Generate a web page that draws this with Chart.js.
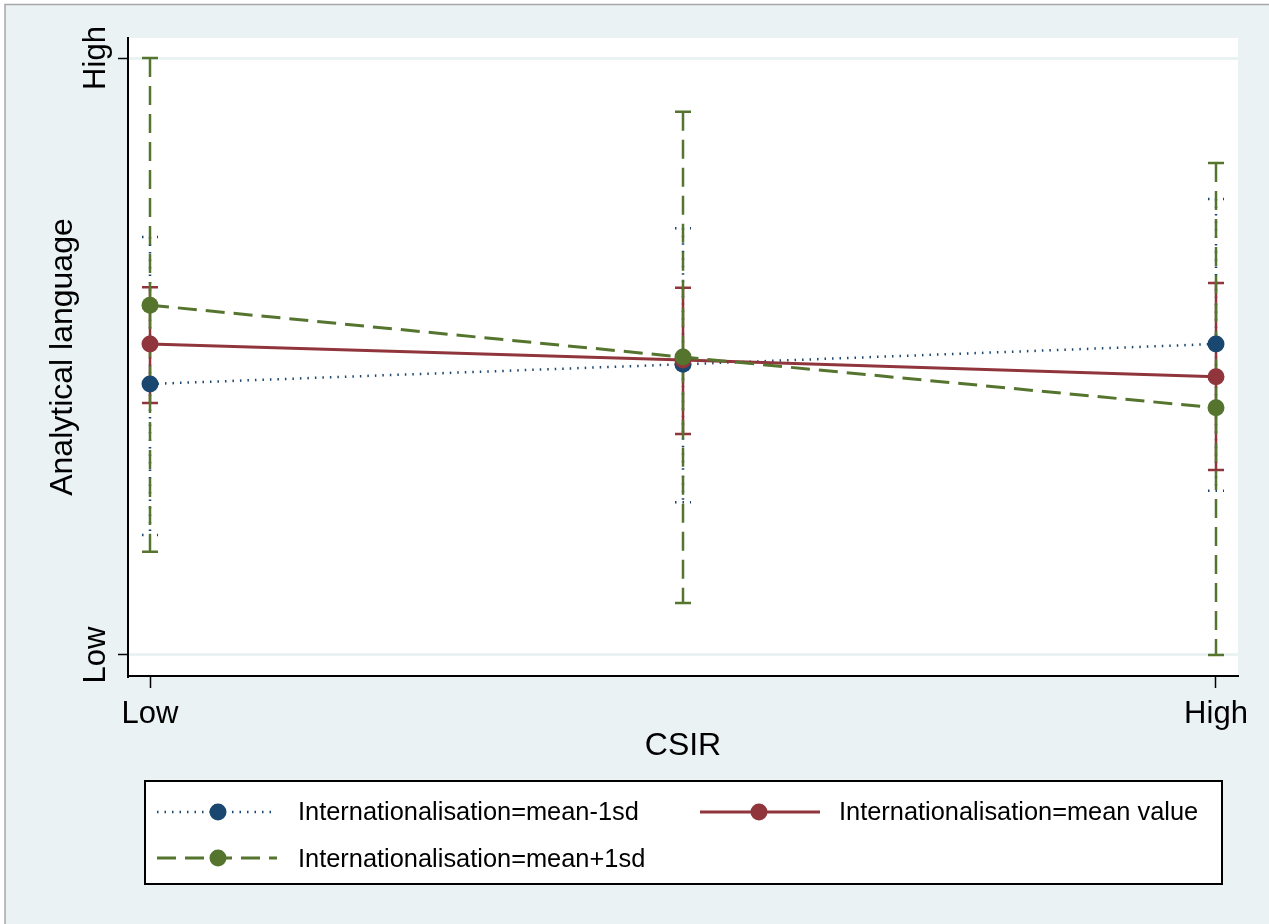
<!DOCTYPE html>
<html>
<head>
<meta charset="utf-8">
<script src="https://cdn.jsdelivr.net/npm/chart.js@4.4.1/dist/chart.umd.min.js"></script>
<style>
    html, body { margin: 0; padding: 0; background: #ffffff; }
    #wrap { width: 1269px; height: 924px; }
</style>
</head>
<body>
<div id="wrap"><canvas id="grafica" width="1269" height="924"></canvas></div>
<script>
// Data (y scaled so Low = 0, High = 1)
const csirLevels = [0, 0.5, 1];
const xTickValues = [0, 1];
const xTickLabels = ["Low", "High"];
const yTickValues = [0, 1];
const yTickLabels = ["Low", "High"];

const seriesNames = [
    "Internationalisation=mean-1sd",
    "Internationalisation=mean value",
    "Internationalisation=mean+1sd"
];

const minus1sd = [0.454, 0.487, 0.521];
const minus1sdLow = [0.201, 0.256, 0.275];
const minus1sdHigh = [0.700, 0.715, 0.764];

const meanValue = [0.521, 0.494, 0.466];
const meanValueLow = [0.422, 0.370, 0.310];
const meanValueHigh = [0.616, 0.615, 0.623];

const plus1sd = [0.586, 0.499, 0.414];
const plus1sdLow = [0.173, 0.087, 0.000];
const plus1sdHigh = [1.000, 0.910, 0.824];

const FONT = "'Liberation Sans', Arial, Helvetica, sans-serif";
const BG = "#EAF2F3";
const NAVY = "#1A476F";
const MAROON = "#90353B";
const GREEN = "#55752F";

const dashes = [[1.5, 6], [], [19, 9]];
const lows = [minus1sdLow, meanValueLow, plus1sdLow];
const highs = [minus1sdHigh, meanValueHigh, plus1sdHigh];

function toPoints(values) {
    return csirLevels.map((x, i) => ({ x: x, y: values[i] }));
}

function makeDataset(label, values, color, dash, order) {
    return {
        label: label,
        data: toPoints(values),
        borderColor: color,
        backgroundColor: color,
        borderWidth: dash.length && dash[0] < 2 ? 2.5 : 3,
        borderDash: dash,
        pointRadius: 8.5,
        pointBorderWidth: 0,
        pointBackgroundColor: color,
        tension: 0,
        order: order
    };
}

// background, outer frame and white plot region
const fondo = {
    id: "fondo",
    beforeDraw(chart) {
        const ctx = chart.ctx;
        const a = chart.chartArea;
        ctx.save();
        ctx.fillStyle = "#ffffff";
        ctx.fillRect(0, 0, chart.width, chart.height);
        ctx.fillStyle = BG;
        ctx.fillRect(5, 4, chart.width - 5, chart.height - 4);
        ctx.strokeStyle = "#A8A8A8";
        ctx.lineWidth = 1.5;
        ctx.beginPath();
        ctx.moveTo(5, chart.height);
        ctx.lineTo(5, 4.5);
        ctx.lineTo(chart.width, 4.5);
        ctx.stroke();
        ctx.fillStyle = "#ffffff";
        ctx.fillRect(a.left, a.top, a.right - a.left, a.bottom - a.top);
        ctx.restore();
    }
};

// confidence intervals drawn under the lines
const intervalos = {
    id: "intervalos",
    beforeDatasetsDraw(chart) {
        const ctx = chart.ctx;
        const xs = chart.scales.x;
        const ys = chart.scales.y;
        ctx.save();
        for (let s = 0; s < 3; s++) {
            const ds = chart.data.datasets[s];
            ctx.strokeStyle = ds.borderColor;
            ctx.lineWidth = 2.5;
            ctx.setLineDash(dashes[s]);
            csirLevels.forEach((x, i) => {
                const px = xs.getPixelForValue(x);
                const pLo = ys.getPixelForValue(lows[s][i]);
                const pHi = ys.getPixelForValue(highs[s][i]);
                ctx.beginPath();
                ctx.moveTo(px, pHi);
                ctx.lineTo(px, pLo);
                ctx.moveTo(px - 8, pHi);
                ctx.lineTo(px + 8, pHi);
                ctx.moveTo(px - 8, pLo);
                ctx.lineTo(px + 8, pLo);
                ctx.stroke();
            });
        }
        ctx.restore();
    }
};

// tick labels, axis titles and the boxed legend
const textos = {
    id: "textos",
    afterDraw(chart) {
        const ctx = chart.ctx;
        const a = chart.chartArea;
        const xs = chart.scales.x;
        const ys = chart.scales.y;
        ctx.save();
        ctx.fillStyle = "#000000";
        ctx.textBaseline = "alphabetic";
        ctx.textAlign = "center";

        ctx.font = "31px " + FONT;
        xTickValues.forEach((v, i) => {
            ctx.fillText(xTickLabels[i], xs.getPixelForValue(v), 723);
        });
        yTickValues.forEach((v, i) => {
            ctx.save();
            ctx.translate(105, ys.getPixelForValue(v));
            ctx.rotate(-Math.PI / 2);
            ctx.fillText(yTickLabels[i], 0, 0);
            ctx.restore();
        });

        ctx.font = "32px " + FONT;
        ctx.fillText("CSIR", (a.left + a.right) / 2, 755);
        ctx.save();
        ctx.translate(72, (a.top + a.bottom) / 2);
        ctx.rotate(-Math.PI / 2);
        ctx.fillText("Analytical language", 0, 0);
        ctx.restore();

        // legend box
        ctx.fillStyle = "#ffffff";
        ctx.fillRect(145, 781, 1077, 103);
        ctx.strokeStyle = "#000000";
        ctx.lineWidth = 2;
        ctx.strokeRect(145, 781, 1077, 103);

        const items = [
            { s: 0, x1: 157, x2: 277, mx: 218, tx: 298, y: 812, by: 820 },
            { s: 1, x1: 700, x2: 820, mx: 759, tx: 839, y: 812, by: 820 },
            { s: 2, x1: 157, x2: 277, mx: 218, tx: 298, y: 858, by: 867 }
        ];
        items.forEach(it => {
            const ds = chart.data.datasets[it.s];
            ctx.strokeStyle = ds.borderColor;
            ctx.lineWidth = ds.borderWidth;
            ctx.setLineDash(dashes[it.s]);
            ctx.beginPath();
            ctx.moveTo(it.x1, it.y);
            ctx.lineTo(it.x2, it.y);
            ctx.stroke();
            ctx.setLineDash([]);
            ctx.fillStyle = ds.borderColor;
            ctx.beginPath();
            ctx.arc(it.mx, it.y, 8.5, 0, Math.PI * 2);
            ctx.fill();
            ctx.fillStyle = "#000000";
            ctx.font = "25.4px " + FONT;
            ctx.textAlign = "left";
            ctx.fillText(ds.label, it.tx, it.by);
        });
        ctx.restore();
    }
};

const ctxGrafica = document.getElementById("grafica").getContext("2d");
new Chart(ctxGrafica, {
    type: "line",
    data: {
        datasets: [
            makeDataset(seriesNames[0], minus1sd, NAVY, dashes[0], 3),
            makeDataset(seriesNames[1], meanValue, MAROON, dashes[1], 2),
            makeDataset(seriesNames[2], plus1sd, GREEN, dashes[2], 1)
        ]
    },
    options: {
        responsive: false,
        animation: false,
        devicePixelRatio: 1,
        layout: { padding: { left: 0, top: 38, right: 31, bottom: 0 } },
        plugins: {
            legend: { display: false },
            tooltip: { enabled: false }
        },
        scales: {
            x: {
                type: "linear",
                min: -0.020638,
                max: 1.020638,
                afterBuildTicks: scale => {
                    scale.ticks = xTickValues.map(v => ({ value: v }));
                },
                afterFit: scale => { scale.height = 248; },
                ticks: { display: false },
                grid: {
                    drawOnChartArea: false,
                    drawTicks: true,
                    tickLength: 12,
                    tickColor: "#000000",
                    tickWidth: 1.5
                },
                border: { color: "#000000", width: 2 }
            },
            y: {
                type: "linear",
                min: -0.035176,
                max: 1.033501,
                afterBuildTicks: scale => {
                    scale.ticks = yTickValues.map(v => ({ value: v }));
                },
                afterFit: scale => { scale.width = 128; },
                ticks: { display: false },
                grid: {
                    color: BG,
                    lineWidth: 3,
                    drawTicks: true,
                    tickLength: 10,
                    tickColor: "#000000",
                    tickWidth: 1.5
                },
                border: { color: "#000000", width: 2 }
            }
        }
    },
    plugins: [fondo, intervalos, textos]
});
</script>
</body>
</html>
